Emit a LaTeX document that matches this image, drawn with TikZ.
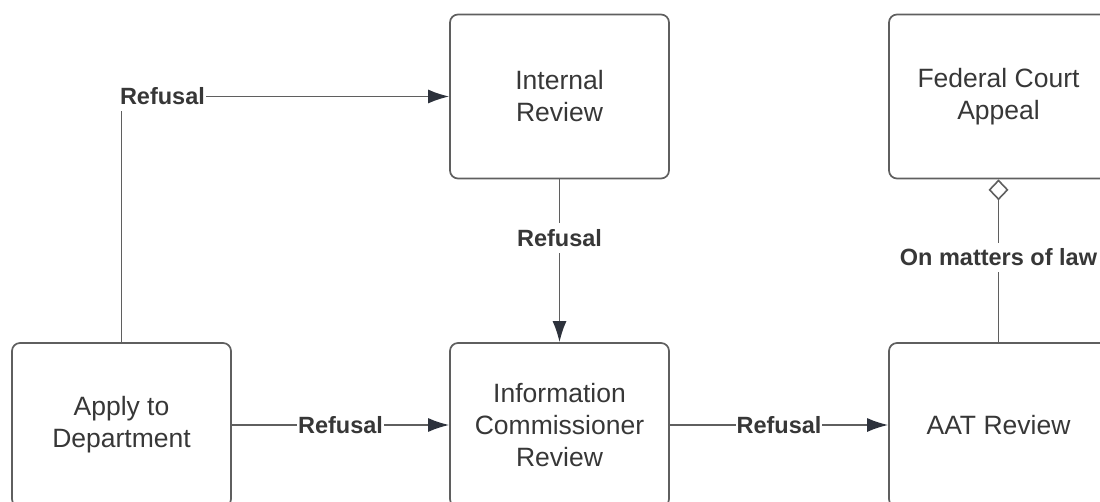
\documentclass[tikz,border=0pt]{standalone}
\usepackage{fontspec}
\setmainfont{Liberation Sans}
\usetikzlibrary{arrows.meta}
\definecolor{linegray}{RGB}{95,95,95}
\definecolor{textgray}{RGB}{55,55,55}
\definecolor{headgray}{RGB}{45,50,60}

\begin{document}
\begin{tikzpicture}[x=1pt,y=-1pt,
  box/.style={draw=linegray, line width=1.7pt, rounded corners=8pt,
    minimum width=219pt, minimum height=164pt, inner sep=0pt,
    align=center, text=textgray, font=\fontsize{26.5}{32}\selectfont},
  flow/.style={draw=linegray, line width=1.6pt,
    -{Latex[length=21pt,width=14pt,color=headgray]}},
  law/.style={draw=linegray, line width=1.6pt,
    -{Diamond[length=21pt,width=20pt,fill=white]}},
  lbl/.style={fill=white, text=textgray, inner xsep=1pt, inner ysep=6pt,
    font=\bfseries\fontsize{23.5}{28}\selectfont}]
\useasboundingbox (0,0) rectangle (1100,502);
\clip (0,0) rectangle (1100,502);
% boxes
\node[box] (apply) at (121.5,425) {Apply to\\Department};
\node[box] (internal) at (559.5,96.5) {Internal\\Review};
\node[box] (info) at (559.5,425) {Information\\Commissioner\\Review};
\node[box] (federal) at (998.5,96.5) {Federal Court\\Appeal};
\node[box] (aat) at (998.5,425) {AAT Review};
% connectors
\draw[flow] (apply.north) |- node[lbl, pos=0.5625] {Refusal} (internal.west);
\draw[flow] (internal) -- node[lbl, pos=0.36] {Refusal} (info);
\draw[flow] (apply) -- node[lbl] {Refusal} (info);
\draw[flow] (info) -- node[lbl] {Refusal} (aat);
\draw[law] (aat) -- node[lbl, pos=0.52] {On matters of law} (federal);
\end{tikzpicture}
\end{document}
